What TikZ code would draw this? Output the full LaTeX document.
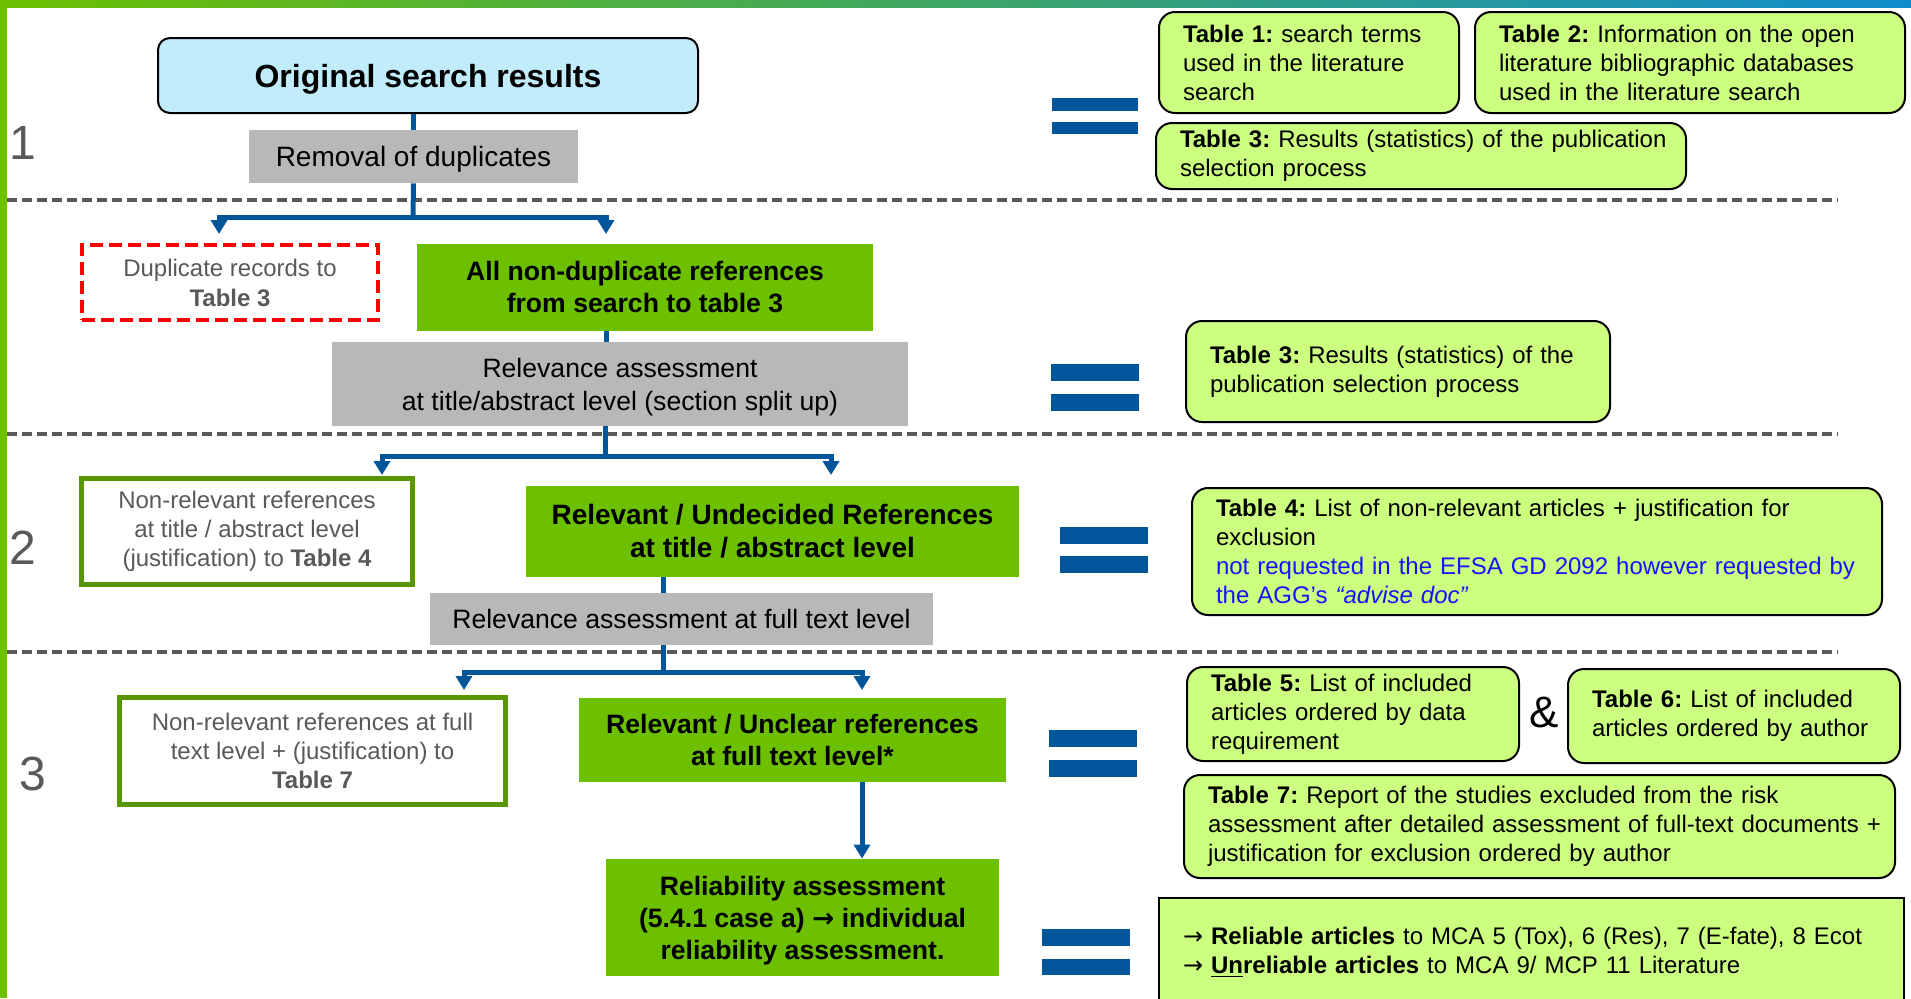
\documentclass[tikz,border=0pt]{standalone}
\usepackage{fontspec}
\setmainfont{Liberation Sans}
\newfontfamily\arrowfont{DejaVu Sans}
\usepackage{xcolor}
\usetikzlibrary{arrows.meta}

\definecolor{flowblue}{RGB}{0,85,155}
\definecolor{boxgreen}{RGB}{108,192,0}
\definecolor{tablegreen}{RGB}{204,255,128}
\definecolor{framegreen}{RGB}{88,150,0}
\definecolor{stepgray}{RGB}{184,184,184}
\definecolor{lightblue}{RGB}{192,236,252}
\definecolor{textgray}{RGB}{89,89,89}
\definecolor{topblue}{RGB}{16,140,205}
\definecolor{noteblue}{RGB}{20,20,255}

\newcommand{\toarrow}{{\arrowfont →}}
\newcommand{\tabfont}{\fontsize{12}{14.5}\selectfont\frenchspacing\hyphenpenalty=10000\relax}

\tikzset{
	flow/.style={draw=flowblue, line width=2.5pt},
	flowarrow/.style={flow, -{Triangle[width=8pt, length=7pt]}},
	grey box/.style={fill=stepgray, inner sep=0pt, align=center, font=\fontsize{13.3}{16.5}\selectfont},
	green box/.style={fill=boxgreen, inner sep=0pt, align=center, font=\fontsize{13.3}{16}\selectfont\bfseries},
	outline box/.style={draw=framegreen, line width=2.5pt, fill=white, inner sep=0pt, align=center, text=textgray, font=\fontsize{12}{14.5}\selectfont},
	table box/.style={draw=black, line width=1pt, fill=tablegreen, rounded corners=8pt, align=left, inner sep=0pt, font=\tabfont, execute at begin node={\leftskip=6pt\relax}},
	separator/.style={draw=textgray, line width=1.6pt, dash pattern=on 5pt off 2.5pt},
	equals/.style={fill=flowblue},
	section no/.style={text=textgray, font=\fontsize{24}{28}\selectfont},
}

\begin{document}
\begin{tikzpicture}[x=0.5pt, y=-0.5pt]
		%frame of the slide
		\useasboundingbox (0,0) rectangle (1911,998);
		\shade[left color=boxgreen, right color=topblue] (0,0) rectangle (1911,7);
		\fill[boxgreen] (0,0) rectangle (7,998);
		
		%stage separators
		\draw[separator] (7,200) -- (1838,200);
		\draw[separator] (7,434) -- (1838,434);
		\draw[separator] (7,652) -- (1838,652);
		
		\node[section no] (s1) at (23,143) {1};
		\node[section no] (s2) at (23,548) {2};
		\node[section no] (s3) at (33,774) {3};
		
		%stage 1
		\node[draw=black, line width=1pt, fill=lightblue, rounded corners=6pt, minimum width=270pt, minimum height=37.5pt, text depth=0pt, font=\fontsize{16}{19}\selectfont\bfseries] (orig) at (428,75.5) {Original search results};
		\node[grey box, minimum width=164.5pt, minimum height=26.5pt, text depth=0pt, font=\fontsize{14}{17}\selectfont] (dedup) at (413.5,156.5) {Removal of duplicates};
			\draw[flow] (dedup.north |- orig.south) -- (dedup.north);
		
		\coordinate (split1) at (413,217);
		\coordinate (dupl in) at (219,234);
		\coordinate (nondup in) at (606,234);
		\draw[flow] (dedup.south) -- (split1);
		\draw[flowarrow] (split1) -| (dupl in);
		\draw[flowarrow] (split1) -| (nondup in);
		
		\node[draw=red, line width=2pt, dash pattern=on 6.5pt off 3pt, fill=white, inner sep=0pt, align=center, text=textgray, font=\fontsize{12}{15}\selectfont, minimum width=148pt, minimum height=37.5pt] (dupl) at (230,282.5) {Duplicate records to\\\textbf{Table 3}};
		\node[green box, minimum width=228pt, minimum height=43.5pt] (nondup) at (645,287.5) {All non-duplicate references\\from search to table 3};
		
		\node[grey box, minimum width=288pt, minimum height=42pt, text depth=0pt] (relta) at (620,384) {Relevance assessment\\at title/abstract level (section split up)};
			\draw[flow] (nondup in |- nondup.south) -- (nondup in |- relta.north);
		
		%stage 2
		\coordinate (split2) at (605,456);
		\coordinate (nonrelta in) at (382,475);
		\coordinate (relund in) at (831,475);
		\draw[flow] (split2 |- relta.south) -- (split2);
		\draw[flowarrow] (split2) -| (nonrelta in);
		\draw[flowarrow] (split2) -| (relund in);
		
		\node[outline box, minimum width=165.5pt, minimum height=53pt] (nonrelta) at (247,531.5) {Non-relevant references\\at title / abstract level\\(justification) to \textbf{Table 4}};
		\node[green box, minimum width=246.5pt, minimum height=45.5pt, font=\fontsize{14}{16.5}\selectfont\bfseries] (relund) at (772.5,531.5) {Relevant / Undecided References\\at title / abstract level};
		
		\coordinate (split3) at (663,672);
		\node[grey box, minimum width=251.5pt, minimum height=26pt, yshift=-1pt] (relft) at (681.5,617) {Relevance assessment at full text level};
			\draw[flow] (split3 |- relund.south) -- (split3 |- relft.north);
		
		%stage 3
		\coordinate (nonrelft in) at (464,690);
		\coordinate (relunc in) at (862,690);
		\draw[flow] (split3 |- relft.south) -- (split3);
		\draw[flowarrow] (split3) -| (nonrelft in);
		\draw[flowarrow] (split3) -| (relunc in);
		
		\node[outline box, minimum width=193pt, minimum height=53.5pt] (nonrelft) at (312.5,751) {Non-relevant references at full\\text level + (justification) to\\\textbf{Table 7}};
		\node[green box, minimum width=213.5pt, minimum height=42pt] (relunc) at (792.5,740) {Relevant / Unclear references\\at full text level*};
		\node[green box, minimum width=196.5pt, minimum height=58.5pt, text depth=0pt] (reliab) at (802.5,917.5) {Reliability assessment\\(5.4.1 case a) {\arrowfont\bfseries →} individual\\reliability assessment.};
			\draw[flowarrow] (relunc in |- relunc.south) -- (relunc in |- reliab.north);
		
		%equal signs
		\fill[equals] (1052,98) rectangle (1138,111);
		\fill[equals] (1052,122) rectangle (1138,134);
		\fill[equals] (1051,364) rectangle (1139,381);
		\fill[equals] (1051,394) rectangle (1139,411);
		\fill[equals] (1060,527) rectangle (1148,544);
		\fill[equals] (1060,556) rectangle (1148,573);
		\fill[equals] (1049,730) rectangle (1137,747);
		\fill[equals] (1049,760) rectangle (1137,777);
		\fill[equals] (1042,929) rectangle (1130,946);
		\fill[equals] (1042,959) rectangle (1130,975);
		
		%tables
		\node[table box, minimum width=150pt, minimum height=50.5pt, text width=138pt] (tab1) at (1309,62.5) {\textbf{Table 1:} search terms\\used in the literature\\search};
		\node[table box, minimum width=215pt, minimum height=50.5pt, text width=203pt] (tab2) at (1690,62.5) {\textbf{Table 2:} Information on the open\\literature bibliographic databases\\used in the literature search};
		\node[table box, minimum width=265pt, minimum height=33pt, text width=253pt] (tab3a) at (1421,156) {\textbf{Table 3:} Results (statistics) of the publication\\selection process};
		
		\node[table box, minimum width=212pt, minimum height=50.5pt, text width=200pt] (tab3b) at (1398,371.5) {\textbf{Table 3:} Results (statistics) of the\\publication selection process};
		
		\node[table box, minimum width=345pt, minimum height=63.5pt, text width=333pt] (tab4) at (1537,551.5) {\textbf{Table 4:} List of non-relevant articles + justification for\\exclusion\\\color{noteblue}not requested in the EFSA GD 2092 however requested by\\the AGG’s \textit{“advise doc”}};
		
		\node[table box, minimum width=166pt, minimum height=47pt, text width=154pt] (tab5) at (1353,714) {\textbf{Table 5:} List of included\\articles ordered by data\\requirement};
		\node[font=\fontsize{22}{26}\selectfont] (amp) at (1544,712) {\&};
		\node[table box, minimum width=166pt, minimum height=47pt, text width=154pt] (tab6) at (1734,716) {\textbf{Table 6:} List of included\\articles ordered by author};
		\node[table box, minimum width=355.5pt, minimum height=51.5pt, text width=343.5pt] (tab7) at (1539.5,826.5) {\textbf{Table 7:} Report of the studies excluded from the risk\\assessment after detailed assessment of full-text documents~+\\justification for exclusion ordered by author};
		
		\node[table box, rounded corners=0pt, minimum width=372.5pt, minimum height=54pt, text width=360.5pt] (result) at (1531.5,952) {\toarrow\ \textbf{Reliable articles} to MCA 5 (Tox), 6 (Res), 7 (E-fate), 8 Ecot\\\toarrow\ \textbf{\underline{Un}reliable articles} to MCA 9/ MCP 11 Literature};
	\end{tikzpicture}
\end{document}
